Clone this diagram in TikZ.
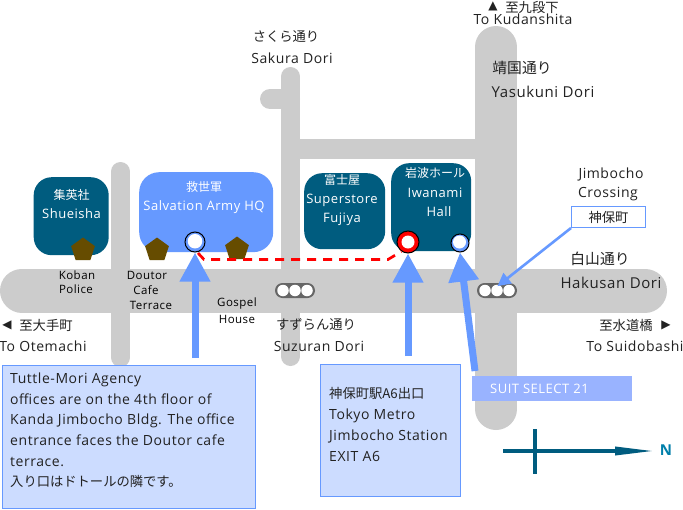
\documentclass[tikz,border=0pt]{standalone}
\usepackage{fontspec}
\setmainfont[LetterSpace=4]{Open Sans}
\newfontfamily\jp{Noto Sans CJK JP}
\newfontfamily\sym{DejaVu Sans}
\usepackage{tikz}
\usetikzlibrary{
  arrows.meta,
  positioning,
  shapes.geometric
}
\definecolor{roadgray}{HTML}{CCCCCC}
\definecolor{signalgray}{HTML}{666666}
\definecolor{bldgteal}{HTML}{005C7F}
\definecolor{armyblue}{HTML}{6699FF}
\definecolor{boxblue}{HTML}{CCDCFF}
\definecolor{suitblue}{HTML}{99B3FF}
\definecolor{kobanbrown}{HTML}{664C00}
\definecolor{textgray}{HTML}{222222}
\definecolor{northblue}{HTML}{007FAA}

\begin{document}
\begin{tikzpicture}[
    x=1pt,
    y=-1pt,
    >=Latex,
    road/.style={roadgray,line cap=round},
    bldg/.style={fill=bldgteal,rounded corners=18pt,anchor=north west,inner sep=0pt},
    txt/.style={font=\fontsize{14}{16}\selectfont,text=textgray,inner sep=0pt},
    jptxt/.style={font=\jp\fontsize{13.3}{16}\selectfont,text=textgray,inner sep=0pt},
    small/.style={font=\fontsize{11.5}{14}\selectfont,text=black,inner sep=0pt},
    wtxt/.style={font=\fontsize{13}{15}\selectfont,text=white,inner sep=0pt},
    wjptxt/.style={font=\jp\fontsize{12}{14}\selectfont,text=white,inner sep=0pt},
    big/.style={font=\fontsize{15}{18}\selectfont,text=textgray,inner sep=0pt},
    bigjp/.style={font=\jp\fontsize{14.8}{18}\selectfont,text=textgray,inner sep=0pt},
    koban/.style={regular polygon,regular polygon sides=5,fill=kobanbrown,minimum size=25pt,inner sep=0pt},
    door/.style={circle,draw=black,line width=1pt,inner sep=0pt},
    doorin/.style={circle,fill=white,inner sep=0pt},
    light/.style={circle,fill=white,minimum size=11.5pt,inner sep=0pt},
    signal/.style={fill=signalgray,rounded corners=7.5pt,minimum width=40pt,minimum height=15pt,inner sep=0pt},
    infobox/.style={fill=boxblue,draw=armyblue,line width=1pt,anchor=north west,inner sep=0pt},
    bigarrow/.style={armyblue,line width=7pt,-{Triangle[length=29pt,width=29pt]}},
    thinarrow/.style={armyblue,line width=2.6pt,-{Triangle[length=13pt,width=13pt]}}
    ]

    \useasboundingbox (0,0) rectangle (683,509);
    \fill[white] (0,0) rectangle (683,509);

    \draw[road,line width=44pt] (22,290.5)--(645,290.5);
    \draw[road,line width=42pt] (496,47)--(496,409);
    \draw[road,line width=19pt] (290.5,76.5)--(290.5,356.5);
    \draw[road,line width=19pt] (120.5,171.5)--(120.5,357.5);
    \draw[road,line width=20pt] (270,99)--(290,99);
    \fill[roadgray] (290,139) rectangle (480,159);

    \node[bldg,minimum width=75pt,minimum height=78pt] (shueisha) at (33.5,177) {};
    \node[bldg,minimum width=134pt,minimum height=80pt,rounded corners=20pt,fill=armyblue] (army) at (139,172) {};
    \node[bldg,minimum width=81pt,minimum height=76pt] (fujiya) at (304,173) {};
    \node[bldg,minimum width=80pt,minimum height=88pt] (iwanami) at (391,163) {};

    \node[koban] (kobanA) at (83,250) {};
    \node[koban] (kobanB) at (157,250) {};
    \node[koban] (kobanC) at (237,249) {};

    \node[door,fill=armyblue,minimum size=20pt] (armyDoor) at (195,242) {};
    \node[doorin,minimum size=14.5pt] (armyIn) at (195,241.2) {};
    \node[door,fill=red,minimum size=22pt] (hallDoor) at (408,242) {};
    \node[doorin,minimum size=13pt] (hallIn) at (408,242) {};
    \node[door,fill=armyblue,minimum size=18pt] (suitDoor) at (460,243) {};
    \node[doorin,minimum size=13pt] (suitIn) at (459.5,242) {};

    \coordinate (dashS) at (198,253);
    \coordinate (dashA) at (204,259.5);
    \coordinate (dashB) at (388,259.5);
    \draw[red,line width=2.7pt,dash pattern=on 9pt off 7pt] (dashS)--(dashA)--(dashB)--(hallDoor.-125);

    \node[signal] (signalA) at (295,290.5) {};
    \node[light] (lightA) at (283,290.5) {};
    \node[light] (lightB) at (295,290.5) {};
    \node[light] (lightC) at (307,290.5) {};
    \node[signal] (signalB) at (497,290.5) {};
    \node[light] (lightD) at (485,290.5) {};
    \node[light] (lightE) at (497,290.5) {};
    \node[light] (lightF) at (509,290.5) {};

    \node[infobox,minimum width=253pt,minimum height=143pt] (agencyBox) at (1.5,365) {};
    \node[infobox,minimum width=140pt,minimum height=132pt] (exitBox) at (319.5,363.5) {};
    \node[fill=suitblue,anchor=north west,minimum width=160pt,minimum height=25pt,inner sep=0pt] (suitBox) at (472,376) {};
    \node[fill=white,draw=armyblue,line width=1pt,anchor=north west,minimum width=74pt,minimum height=21pt,inner sep=0pt,jptxt] (crossBox) at (571,206) {神保町};

    \coordinate (armyTail) at (195,358);
    \coordinate (hallTail) at (408,356);
    \coordinate (suitTail) at (475,371);
    \draw[bigarrow] (armyTail)--(armyDoor.south);
    \draw[bigarrow] (hallTail)--(hallDoor.south);
    \draw[bigarrow] (suitTail)--(suitDoor.south);
    \draw[thinarrow,shorten >=-2pt] (crossBox.south west)--(lightE.70);

    \node[wjptxt] (shueishaJp) at (71.5,195) {集英社};
    \node[wtxt] (shueishaEn) at (71.5,214) {Shueisha};
    \node[wjptxt] (armyJp) at (204,187) {救世軍};
    \node[wtxt] (armyEn) at (204,207) {Salvation Army HQ};
    \node[wjptxt] (fujiyaJp) at (342,180) {富士屋};
    \node[wtxt] (fujiyaEnA) at (342,200) {Superstore};
    \node[wtxt] (fujiyaEnB) at (342,219) {Fujiya};
    \node[wjptxt] (iwanamiJp) at (435,173) {岩波ホール};
    \node[wtxt] (iwanamiEnA) at (435,193) {Iwanami};
    \node[wtxt] (iwanamiEnB) at (439,212) {Hall};

    \node[small] (kobanTxt) at (77,275) {Koban};
    \node[small] (policeTxt) at (76,289.5) {Police};
    \node[small] (doutorTxt) at (147,275) {Doutor};
    \node[small] (cafeTxt) at (146,290) {Cafe};
    \node[small] (terraceTxt) at (151,305) {Terrace};
    \node[small] (gospelTxt) at (237,304) {Gospel};
    \node[small] (houseTxt) at (237,319) {House};

    \node[txt,font=\sym\fontsize{12}{14}\selectfont] (westMark) at (7,325) {◀};
    \node[jptxt] (westJp) at (46,325) {至大手町};
    \node[txt] (westEn) at (43,346) {To Otemachi};
    \node[jptxt] (suzuranJp) at (316,324) {すずらん通り};
    \node[txt] (suzuranEn) at (319,346) {Suzuran Dori};
    \node[jptxt] (eastJp) at (626,325) {至水道橋};
    \node[txt,font=\sym\fontsize{12}{14}\selectfont] (eastMark) at (666,325) {▶};
    \node[txt] (eastEn) at (635,346) {To Suidobashi};
    \node[bigjp] (hakusanJp) at (600,259) {白山通り};
    \node[big] (hakusanEn) at (611,283) {Hakusan Dori};
    \node[txt] (crossA) at (611,174) {Jimbocho};
    \node[txt] (crossB) at (608,194) {Crossing};
    \node[jptxt] (sakuraJp) at (286,37) {さくら通り};
    \node[txt] (sakuraEn) at (292,58) {Sakura Dori};
    \node[txt,font=\sym\fontsize{12}{14}\selectfont] (northMark) at (493,6.5) {▲};
    \node[jptxt] (northJp) at (532,7) {至九段下};
    \node[txt] (northEn) at (523,19) {To Kudanshita};
    \node[bigjp] (yasukuniJp) at (522,68) {靖国通り};
    \node[big] (yasukuniEn) at (543,92) {Yasukuni Dori};

    \node[txt,anchor=north west,align=left,font=\fontsize{14}{20.7}\selectfont] (agencyTxt) at (10,372.5) {Tuttle-Mori Agency\\offices are on the 4th floor of\\Kanda Jimbocho Bldg. The office\\entrance faces the Doutor cafe\\terrace.\\{\jp\fontsize{13.3}{20.7}\selectfont 入り口はドトールの隣です。}};
    \node[txt,anchor=north west,align=left,font=\fontsize{14}{21}\selectfont] (exitTxt) at (329,387) {{\jp\fontsize{13.3}{21}\selectfont 神保町駅A6出口}\\Tokyo Metro\\Jimbocho Station\\EXIT A6};
    \node[wtxt,anchor=west] (suitTxt) at (490,389) {SUIT SELECT 21};

    \coordinate (northTail) at (503,451);
    \coordinate (northTip) at (655,451);
    \coordinate (crossTop) at (535,429);
    \coordinate (crossEnd) at (535,474);
    \draw[bldgteal,line width=3.5pt,-{Triangle[length=40pt,width=8pt]}] (northTail)--(northTip);
    \draw[bldgteal,line width=4pt] (crossTop)--(crossEnd);
    \node[font=\fontsize{15}{18}\selectfont\bfseries,text=northblue,inner sep=0pt] (northTxt) at (666,450) {N};

\end{tikzpicture}
\end{document}
